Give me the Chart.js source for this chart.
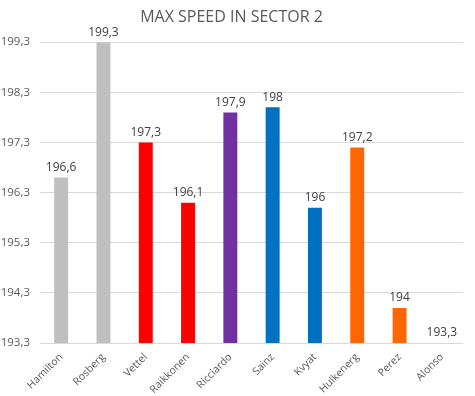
<!DOCTYPE html>
<html>
<head>
<meta charset="utf-8">
<script src="https://cdn.jsdelivr.net/npm/chart.js@4/dist/chart.umd.min.js"></script>
<style>
  html, body { margin: 0; padding: 0; background: #fff; }
  #wrap { width: 475px; height: 396px; position: relative; }
</style>
</head>
<body>
<div id="wrap"><canvas id="speedChart"></canvas></div>
<script>
// drivers and their max speed in sector 2
const drivers = ['Hamilton', 'Rosberg', 'Vettel', 'Raikkonen', 'Ricciardo', 'Sainz', 'Kvyat', 'Hulkenerg', 'Perez', 'Alonso'];
const maxSpeed = [196.6, 199.3, 197.3, 196.1, 197.9, 198, 196, 197.2, 194, 193.3];
const barColors = ['#BFBFBF', '#BFBFBF', '#FF0000', '#FF0000', '#7030A0', '#0070C0', '#0070C0', '#FF6600', '#FF6600', '#FF6600'];
const yTicks = [193.3, 194.3, 195.3, 196.3, 197.3, 198.3, 199.3];

const fmt = (v) => String(Math.round(v * 10) / 10).replace('.', ',');

// draws the value above each bar, excel style
const valueLabels = {
    id: 'valueLabels',
    afterDatasetsDraw(chart) {
        const ctx = chart.ctx;
        const meta = chart.getDatasetMeta(0);
        ctx.save();
        ctx.font = '12px "Open Sans", sans-serif';
        ctx.fillStyle = '#404040';
        ctx.textAlign = 'center';
        ctx.textBaseline = 'bottom';
        meta.data.forEach((bar, i) => {
            ctx.fillText(fmt(maxSpeed[i]), bar.x, bar.y - 4);
        });
        ctx.restore();
    }
};

const ctx = document.getElementById('speedChart').getContext('2d');
new Chart(ctx, {
    type: 'bar',
    data: {
        labels: drivers,
        datasets: [{
            data: maxSpeed,
            backgroundColor: barColors,
            barPercentage: 0.33,
            categoryPercentage: 1,
        }],
    },
    options: {
        responsive: true,
        maintainAspectRatio: false,
        animation: false,
        layout: { padding: { left: 0, right: 12, top: 0, bottom: 0 } },
        plugins: {
            legend: { display: false },
            tooltip: { enabled: false },
            title: {
                display: true,
                text: 'MAX SPEED IN SECTOR 2',
                color: '#595959',
                font: { family: '"Open Sans", sans-serif', size: 16, weight: 'normal' },
                padding: { top: 8, bottom: 15 },
            },
        },
        scales: {
            x: {
                grid: { display: false },
                border: { display: false },
                ticks: {
                    color: '#595959',
                    font: { family: '"Open Sans", sans-serif', size: 10.5 },
                    maxRotation: 45,
                    minRotation: 45,
                    padding: 0,
                },
                afterFit: (scale) => { scale.height = 53; },
            },
            y: {
                min: 193.3,
                max: 199.3,
                grid: { color: '#D9D9D9', drawTicks: false },
                border: { display: false },
                afterBuildTicks: (scale) => { scale.ticks = yTicks.map(v => ({ value: v })); },
                ticks: {
                    color: '#595959',
                    font: { family: '"Open Sans", sans-serif', size: 11.5 },
                    padding: 10,
                    callback: (v) => fmt(v),
                },
                afterFit: (scale) => { scale.width = 40; },
            },
        },
    },
    plugins: [valueLabels],
});
</script>
</body>
</html>
